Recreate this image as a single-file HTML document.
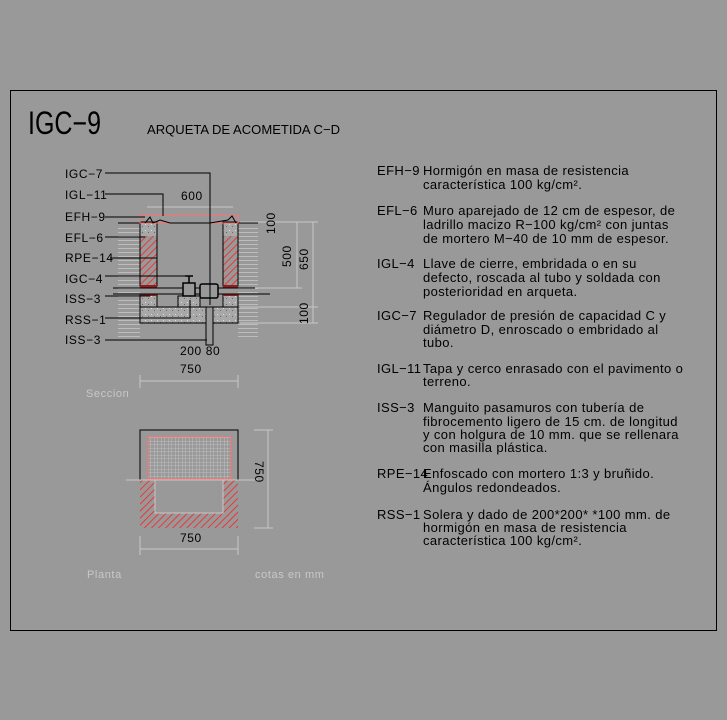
<!DOCTYPE html>
<html><head><meta charset="utf-8"><style>
html,body{margin:0;padding:0;background:#999;}
svg{display:block;}
text{font-family:"Liberation Sans",sans-serif;fill:#000;}
.d{font-size:13px;letter-spacing:0.4px;}
.l{font-size:12px;letter-spacing:0.6px;}
.g{fill:#c8c8c8;font-size:11px;letter-spacing:0.6px;}
</style></head><body>
<svg width="727" height="720" viewBox="0 0 727 720" xmlns="http://www.w3.org/2000/svg">
<defs>
<pattern id="h" width="5" height="5" patternUnits="userSpaceOnUse" patternTransform="rotate(45)">
<rect width="5" height="5" fill="#999"/><line x1="0" y1="0" x2="0" y2="5" stroke="#ff2020" stroke-width="1.6"/></pattern>
<pattern id="c" width="6" height="6" patternUnits="userSpaceOnUse">
<rect width="6" height="6" fill="#a8a8a8"/><rect x="1" y="2" width="1" height="1" fill="#ddd"/><rect x="4" y="4" width="1" height="1" fill="#666"/></pattern>
<pattern id="gr" width="3.5" height="3.5" patternUnits="userSpaceOnUse">
<rect width="3.5" height="3.5" fill="#999"/><path d="M0 0H3.5M0 0V3.5" stroke="#c8c8c8" stroke-width="0.8"/></pattern>
<pattern id="hz" width="10" height="4" patternUnits="userSpaceOnUse">
<line x1="0" y1="0.5" x2="10" y2="0.5" stroke="#bdbdbd" stroke-width="1"/></pattern>
</defs>
<rect x="10.5" y="90.5" width="706" height="540" fill="none" stroke="#000"/>
<text x="28" y="134" style="font-size:32px;font-weight:100" textLength="73" lengthAdjust="spacingAndGlyphs">IGC−9</text>
<text x="147" y="134" style="font-size:13px" textLength="193" lengthAdjust="spacingAndGlyphs">ARQUETA DE ACOMETIDA C−D</text>

<!-- section -->
<rect x="118" y="225" width="22" height="115" fill="url(#hz)"/>
<rect x="238" y="225" width="20" height="115" fill="url(#hz)"/>
<line x1="118" y1="223" x2="140" y2="223" stroke="#000"/>
<line x1="238" y1="223" x2="258" y2="223" stroke="#000"/>
<rect x="140" y="222" width="17" height="14" fill="url(#c)"/>
<rect x="223" y="222" width="15" height="14" fill="url(#c)"/>
<rect x="140" y="236" width="17" height="50" fill="url(#h)"/>
<rect x="223" y="236" width="15" height="50" fill="url(#h)"/>
<rect x="140" y="222" width="17" height="64" fill="none" stroke="#000"/>
<rect x="223" y="222" width="15" height="64" fill="none" stroke="#000"/>
<rect x="140" y="285" width="17" height="3" fill="#8a2020"/>
<rect x="223" y="285" width="15" height="3" fill="#8a2020"/>
<rect x="140" y="215" width="98" height="8" fill="none" stroke="#ff7070"/>
<path d="M145 223 L150 217 L153 223 L160 220 L170 223 L210 223 L228 220 L232 216 L236 223" fill="none" stroke="#000"/>
<line x1="147" y1="207" x2="233" y2="207" stroke="#c8c8c8"/>
<text x="181" y="200" class="l">600</text>
<rect x="140" y="295" width="17" height="12" fill="url(#c)" stroke="#000"/>
<rect x="223" y="295" width="15" height="12" fill="url(#c)" stroke="#000"/>
<rect x="140" y="294" width="17" height="2" fill="#8a2020"/>
<rect x="223" y="294" width="15" height="2" fill="#8a2020"/>
<rect x="178" y="296" width="22" height="11" fill="url(#c)" stroke="#000"/>
<rect x="140" y="307" width="98" height="16" fill="url(#c)" stroke="#000"/>
<line x1="113" y1="288" x2="270" y2="288" stroke="#000"/>
<line x1="113" y1="294" x2="270" y2="294" stroke="#000"/>
<rect x="206" y="307" width="7" height="38" fill="#999" stroke="#000"/>
<rect x="183" y="283" width="12" height="13" fill="#999" stroke="#000" stroke-width="1.5"/>
<line x1="189" y1="283" x2="189" y2="276" stroke="#000" stroke-width="1.5"/>
<line x1="185" y1="276" x2="193" y2="276" stroke="#000" stroke-width="1.5"/>
<rect x="200" y="284" width="18" height="14" rx="2" fill="#999" stroke="#000" stroke-width="1.5"/>
<!-- leaders -->
<g stroke="#000" fill="none">
<path d="M105 173H210V305"/>
<path d="M105 194H163V216"/>
<path d="M105 217H145"/>
<path d="M105 237H145"/>
<path d="M110 258H157"/>
<path d="M157 225V283"/>
<path d="M105 276H188"/>
<path d="M105 296H150"/>
<path d="M105 318H190V300"/>
<path d="M105 340H207"/>
</g>
<g class="l">
<text x="65" y="178">IGC−7</text>
<text x="65" y="199">IGL−11</text>
<text x="65" y="221">EFH−9</text>
<text x="65" y="242">EFL−6</text>
<text x="65" y="262">RPE−14</text>
<text x="65" y="283">IGC−4</text>
<text x="65" y="303">ISS−3</text>
<text x="65" y="324">RSS−1</text>
<text x="65" y="344">ISS−3</text>
<text x="180" y="355">200 80</text>
<text x="180" y="373">750</text>
</g>
<g stroke="#c8c8c8" fill="none">
<path d="M255 222H302M297 222V288M255 288H302"/>
<path d="M240 222H318M313 222V307M240 307H318"/>
<path d="M240 323H318M313 307V323"/>
<path d="M140 381H238M140 375V388M238 375V388"/>
</g>
<text class="l" transform="translate(275,234) rotate(-90)">100</text>
<text class="l" transform="translate(291,267) rotate(-90)">500</text>
<text class="l" transform="translate(308,270) rotate(-90)">650</text>
<text class="l" transform="translate(308,324) rotate(-90)">100</text>
<text x="86" y="397" class="g">Seccion</text>

<!-- plan -->
<rect x="140" y="480" width="98" height="48" fill="url(#h)"/>
<rect x="155" y="480" width="68" height="33" fill="#999" stroke="#c8c8c8"/>
<rect x="148" y="437" width="83" height="42" fill="url(#gr)" stroke="#ff7070"/>
<path d="M140 480V430H238V480" fill="none" stroke="#000"/>
<line x1="126" y1="480" x2="258" y2="480" stroke="#c8c8c8"/>
<g stroke="#c8c8c8" fill="none">
<path d="M254 430H273M268 430V528M254 528H273"/>
<path d="M140 549H238M140 536V555M238 536V555"/>
</g>
<text class="l" transform="translate(255,461) rotate(90)">750</text>
<text x="180" y="542" class="l">750</text>
<text x="87" y="578" class="g">Planta</text>
<text x="255" y="578" class="g">cotas en mm</text>

<!-- legend -->
<g class="d">
<text x="377" y="175">EFH−9</text><text x="423" y="175">Hormigón en masa de resistencia</text>
<text x="423" y="189">característica 100 kg/cm².</text>
<text x="377" y="215">EFL−6</text><text x="423" y="215">Muro aparejado de 12 cm de espesor, de</text>
<text x="423" y="229">ladrillo macizo R−100 kg/cm² con juntas</text>
<text x="423" y="243">de mortero M−40 de 10 mm de espesor.</text>
<text x="377" y="268">IGL−4</text><text x="423" y="268">Llave de cierre, embridada o en su</text>
<text x="423" y="282">defecto, roscada al tubo y soldada con</text>
<text x="423" y="296">posterioridad en arqueta.</text>
<text x="377" y="320">IGC−7</text><text x="423" y="320">Regulador de presión de capacidad C y</text>
<text x="423" y="334">diámetro D, enroscado o embridado al</text>
<text x="423" y="347">tubo.</text>
<text x="377" y="373">IGL−11</text><text x="423" y="373">Tapa y cerco enrasado con el pavimento o</text>
<text x="423" y="386">terreno.</text>
<text x="377" y="412">ISS−3</text><text x="423" y="412">Manguito pasamuros con tubería de</text>
<text x="423" y="426">fibrocemento ligero de 15 cm. de longitud</text>
<text x="423" y="439">y con holgura de 10 mm. que se rellenara</text>
<text x="423" y="452">con masilla  plástica.</text>
<text x="377" y="478">RPE−14</text><text x="423" y="478">Enfoscado con mortero 1:3 y bruñido.</text>
<text x="423" y="492">Ángulos redondeados.</text>
<text x="377" y="519">RSS−1</text><text x="423" y="519">Solera y dado de 200*200* *100 mm. de</text>
<text x="423" y="532">hormigón en masa de resistencia</text>
<text x="423" y="545">característica 100 kg/cm².</text>
</g>
</svg>
</body></html>
